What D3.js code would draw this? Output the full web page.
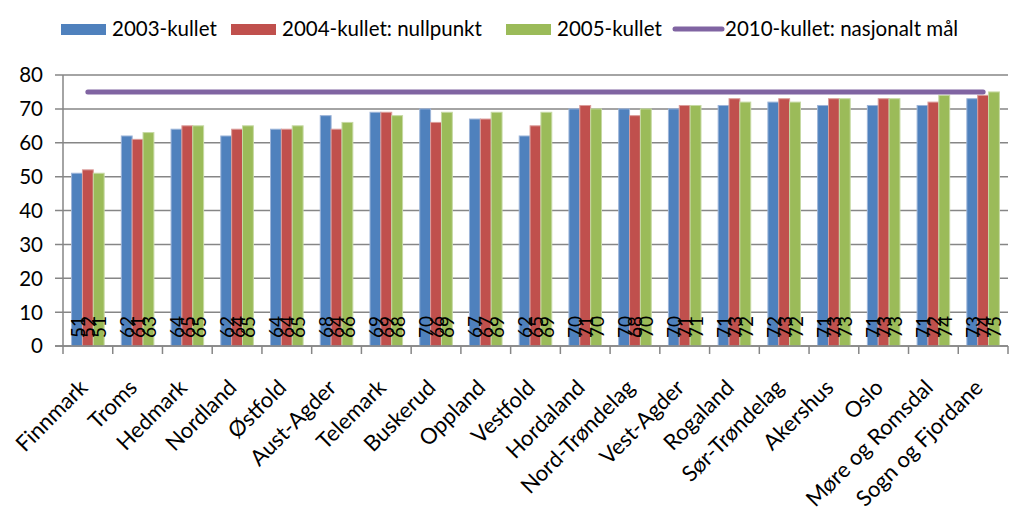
<!DOCTYPE html>
<html>
<head>
<meta charset="utf-8">
<script src="https://cdn.jsdelivr.net/npm/d3@7"></script>
<style>
  html, body { margin: 0; padding: 0; background: #fff; }
  svg { display: block; }
  text { font-family: Lato, "Open Sans", sans-serif; fill: #000; }
</style>
</head>
<body>
<svg id="chart" width="1026" height="527"></svg>
<script>
const categories = ["Finnmark","Troms","Hedmark","Nordland","Østfold","Aust-Agder","Telemark","Buskerud","Oppland","Vestfold","Hordaland","Nord-Trøndelag","Vest-Agder","Rogaland","Sør-Trøndelag","Akershus","Oslo","Møre og Romsdal","Sogn og Fjordane"];
const seriesNames = ["2003-kullet","2004-kullet: nullpunkt","2005-kullet"];
const lineName = "2010-kullet: nasjonalt mål";
const values2003 = [51,62,64,62,64,68,69,70,67,62,70,70,70,71,72,71,71,71,73];
const values2004 = [52,61,65,64,64,64,69,66,67,65,71,68,71,73,73,73,73,72,74];
const values2005 = [51,63,65,65,65,66,68,69,69,69,70,70,71,72,72,73,73,74,75];
const target2010 = [75,75,75,75,75,75,75,75,75,75,75,75,75,75,75,75,75,75,75];
const yTicks = [0,10,20,30,40,50,60,70,80];

const colors = ["#4F81BD","#C0504D","#9BBB59"];
const edge = ["#9DB5D9","#DB9C9A","#C6D9A3"];
const lineColor = "#8064A2";
const series = [values2003, values2004, values2005];

const svg = d3.select("#chart");
const plot = {left: 63, right: 1008, top: 75, bottom: 346};

const x = d3.scaleBand().domain(categories).range([plot.left, plot.right]).paddingInner(0).paddingOuter(0);
const y = d3.scaleLinear().domain([0, 80]).range([plot.bottom, plot.top]);
const groupW = x.bandwidth() * 0.655;
const x1 = d3.scaleBand().domain(d3.range(3)).range([0, groupW]).padding(0);

// gridlines
svg.append("g").selectAll("line").data(yTicks).join("line")
  .attr("x1", plot.left - 8).attr("x2", plot.right)
  .attr("y1", d => y(d)).attr("y2", d => y(d))
  .attr("stroke", "#868686").attr("stroke-width", 1.5);

// y axis labels
svg.append("g").selectAll("text").data(yTicks).join("text")
  .attr("x", 43).attr("y", d => y(d)).attr("dy", "0.36em")
  .attr("text-anchor", "end").style("font-size", "20.5px")
  .text(d => d);

// bars
const groups = svg.append("g").selectAll("g").data(categories).join("g")
  .attr("transform", c => `translate(${x(c) + (x.bandwidth() - groupW) / 2},0)`);
series.forEach((vals, si) => {
  groups.append("rect")
    .attr("x", x1(si))
    .attr("width", x1.bandwidth())
    .attr("y", (c, i) => y(vals[i]))
    .attr("height", (c, i) => y(0) - y(vals[i]))
    .attr("fill", colors[si])
    .attr("stroke", edge[si]).attr("stroke-width", 1);
});

// axes lines
svg.append("line").attr("x1", plot.left).attr("x2", plot.left)
  .attr("y1", plot.top).attr("y2", plot.bottom)
  .attr("stroke", "#868686").attr("stroke-width", 1.5);
svg.append("line").attr("x1", plot.left - 8).attr("x2", plot.right)
  .attr("y1", plot.bottom).attr("y2", plot.bottom)
  .attr("stroke", "#868686").attr("stroke-width", 1.5);
const boundaries = categories.map(c => x(c)).concat([plot.right]);
svg.append("g").selectAll("line").data(boundaries).join("line")
  .attr("x1", d => d).attr("x2", d => d)
  .attr("y1", plot.bottom).attr("y2", plot.bottom + 8)
  .attr("stroke", "#868686").attr("stroke-width", 1.5);

// target line
const line = d3.line().x((d, i) => x(categories[i]) + x.bandwidth() / 2).y(d => y(d));
svg.append("path").datum(target2010).attr("d", line)
  .attr("fill", "none").attr("stroke", lineColor).attr("stroke-width", 5)
  .attr("stroke-linecap", "round");

// data labels (rotated, at base)
series.forEach((vals, si) => {
  groups.append("text")
    .attr("transform", (c, i) => `translate(${x1(si) + x1.bandwidth() / 2}, ${plot.bottom - 8}) rotate(-90)`)
    .attr("dominant-baseline", "central")
    .attr("text-anchor", "start")
    .style("font-size", "19px")
    .text((c, i) => vals[i]);
});

// x labels
svg.append("g").selectAll("text").data(categories).join("text")
  .attr("transform", c => `translate(${x(c) + x.bandwidth() / 2 + 1}, ${plot.bottom + 43}) rotate(-45)`)
  .attr("text-anchor", "end")
  .style("font-size", "22px")
  .text(c => c);

// legend
const legendItems = [
  {name: seriesNames[0], type: "rect", color: colors[0], x: 61},
  {name: seriesNames[1], type: "rect", color: colors[1], x: 231},
  {name: seriesNames[2], type: "rect", color: colors[2], x: 506},
  {name: lineName, type: "line", color: lineColor, x: 674}
];
const lg = svg.append("g").selectAll("g").data(legendItems).join("g")
  .attr("transform", d => `translate(${d.x},29)`);
lg.filter(d => d.type === "rect").append("rect")
  .attr("x", 0).attr("y", -5).attr("width", 45).attr("height", 11)
  .attr("fill", d => d.color);
lg.filter(d => d.type === "line").append("line")
  .attr("x1", 1).attr("x2", 48).attr("y1", 0).attr("y2", 0)
  .attr("stroke", d => d.color).attr("stroke-width", 5).attr("stroke-linecap", "round");
lg.append("text")
  .attr("x", 51)
  .attr("y", 0).attr("dy", "0.36em")
  .style("font-size", "20.5px")
  .text(d => d.name);
</script>
</body>
</html>
